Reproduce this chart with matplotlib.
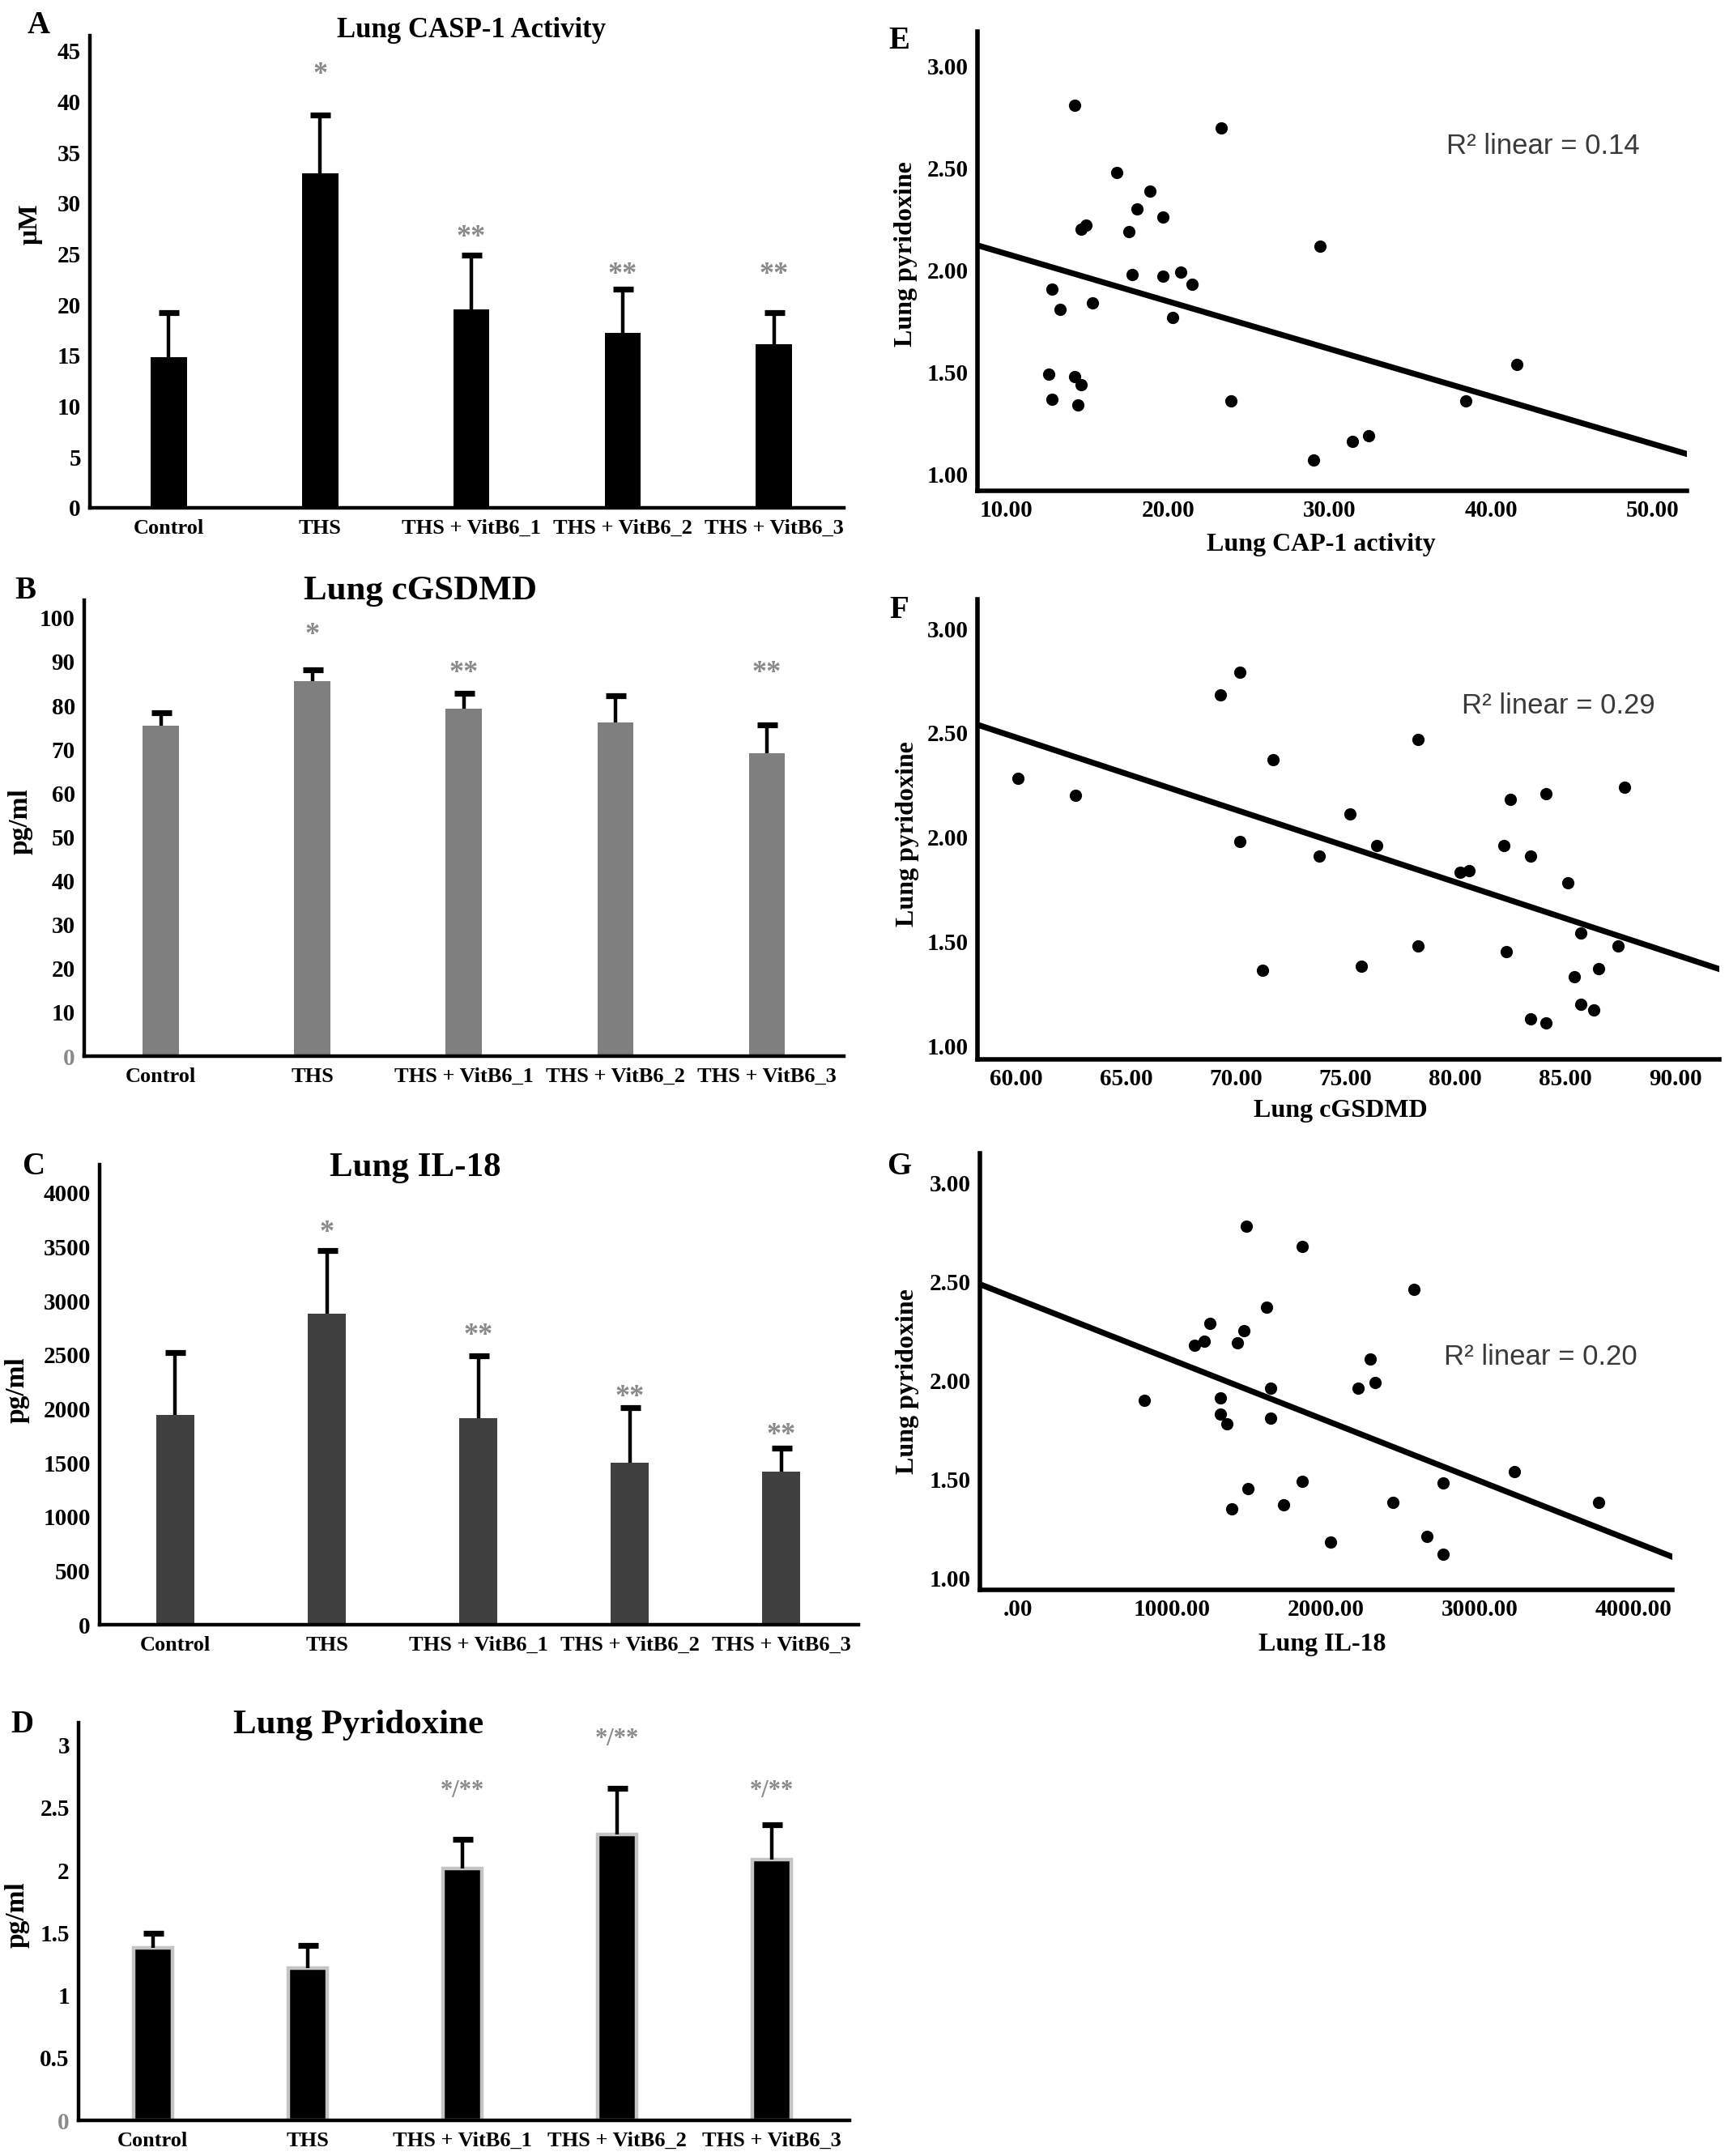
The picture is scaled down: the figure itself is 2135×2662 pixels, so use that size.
import numpy as np
import matplotlib
matplotlib.use('Agg')
import matplotlib.pyplot as plt

plt.rcParams['font.family'] = ['Liberation Serif', 'DejaVu Serif']
plt.rcParams['font.weight'] = 'bold'

# ---------------- data ----------------
groups = ['Control', 'THS', 'THS + VitB6_1', 'THS + VitB6_2', 'THS + VitB6_3']

casp1_mean = [14.8, 32.9, 19.5, 17.2, 16.1]
casp1_sd = [4.4, 5.8, 5.4, 4.3, 3.1]
casp1_sig = ['', '*', '**', '**', '**']

gsdmd_mean = [75.4, 85.5, 79.3, 76.2, 69.1]
gsdmd_sd = [3.0, 2.6, 3.4, 6.1, 6.5]
gsdmd_sig = ['', '*', '**', '', '**']

il18_mean = [1946, 2878, 1914, 1501, 1421]
il18_sd = [572, 588, 573, 512, 217]
il18_sig = ['', '*', '**', '**', '**']

pyr_mean = [1.378, 1.215, 2.017, 2.285, 2.085]
pyr_sd = [0.115, 0.187, 0.232, 0.369, 0.281]
pyr_sig = ['', '', '*/**', '*/**', '*/**']

# scatter E: CASP-1 activity vs pyridoxine
casp_x = [14.2, 23.3, 16.8, 18.9, 18.1, 19.7, 14.9, 14.6, 17.6, 29.4, 17.8, 19.7, 20.8, 21.5, 12.8,
          13.3, 15.3, 20.3, 12.6, 14.2, 14.6, 12.8, 14.4, 23.9, 41.6, 38.4, 31.4, 32.4, 29.0]
casp_y = [2.81, 2.70, 2.48, 2.39, 2.30, 2.26, 2.22, 2.20, 2.19, 2.12, 1.98, 1.97, 1.99, 1.93, 1.91,
          1.81, 1.84, 1.77, 1.49, 1.48, 1.44, 1.37, 1.34, 1.36, 1.54, 1.36, 1.16, 1.19, 1.07]
casp_fit = (2.314, -0.0233)

# scatter F: cGSDMD vs pyridoxine
gsd_x = [70.2, 69.3, 78.3, 71.7, 60.1, 62.7, 87.7, 84.1, 82.5, 75.2, 70.2, 76.4, 73.8, 82.2, 83.4,
         80.2, 80.6, 85.1, 85.7, 87.4, 78.3, 82.3, 71.2, 75.7, 85.4, 86.5, 85.7, 86.3, 83.4, 84.1]
gsd_y = [2.79, 2.68, 2.47, 2.37, 2.28, 2.20, 2.24, 2.21, 2.18, 2.11, 1.98, 1.96, 1.91, 1.96, 1.91,
         1.83, 1.84, 1.78, 1.54, 1.48, 1.48, 1.45, 1.36, 1.38, 1.33, 1.37, 1.20, 1.17, 1.13, 1.11]
gsd_fit = (4.560, -0.0347)

# scatter G: IL-18 vs pyridoxine
il_x = [1488, 1846, 2575, 1618, 1249, 1470, 1211, 1147, 1428, 2288, 2214, 2323, 1646, 821, 1319,
        1319, 1358, 1646, 3228, 2765, 1846, 1498, 1389, 1730, 2439, 3772, 2035, 2660, 2765]
il_y = [2.78, 2.68, 2.46, 2.37, 2.29, 2.25, 2.20, 2.18, 2.19, 2.11, 1.96, 1.99, 1.96, 1.90, 1.91,
        1.83, 1.78, 1.81, 1.54, 1.48, 1.49, 1.45, 1.35, 1.37, 1.38, 1.38, 1.18, 1.21, 1.12]
il_fit = (2.412, -0.000307)

fig = plt.figure(figsize=(10.675, 13.31), dpi=200)
serif = ['Liberation Serif', 'DejaVu Serif']
sans = ['Liberation Sans', 'DejaVu Sans']


def bar_panel(rect, mean, sd, sig, sig_y, title, title_pos, title_size, ylabel, ylabel_pos,
              ylim, yticks, color, edge=None, xlim=(-0.5, 4.5), width=0.24, gray_zero=False):
    ax = fig.add_axes(rect)
    x = np.arange(len(groups))
    if edge:
        ax.bar(x, mean, width, color=color, edgecolor=edge, linewidth=1.6, zorder=2)
    else:
        ax.bar(x, mean, width, color=color, zorder=2)
    # only the upper half of the error bar, as in Excel
    _, caps, _ = ax.errorbar(x, mean, yerr=[np.zeros(len(sd)), sd], fmt='none', ecolor='black',
                             elinewidth=1.6, capsize=4.5, capthick=2.6, zorder=3)
    caps[0].set_visible(False)
    for xi, s, yy in zip(x, sig, sig_y):
        if s:
            ax.text(xi, yy, s, ha='center', va='center', color='#8a8a8a',
                    fontsize=13 if '/' not in s else 11, family=serif, fontweight='bold')
    ax.set_xlim(*xlim)
    ax.set_ylim(*ylim)
    ax.set_yticks(yticks)
    ax.set_yticklabels([f'{t:g}' for t in yticks], fontsize=10.5, family=serif, fontweight='bold')
    ax.set_xticks(x)
    ax.set_xticklabels(groups, fontsize=9.5, family=serif, fontweight='bold')
    if gray_zero:
        ax.get_yticklabels()[0].set_color('#8a8a8a')
    ax.tick_params(length=0, pad=4)
    ax.tick_params(axis='x', pad=5)
    for s in ['top', 'right']:
        ax.spines[s].set_visible(False)
    for s in ['left', 'bottom']:
        ax.spines[s].set_linewidth(1.6)
    ax.set_ylabel(ylabel, fontsize=12, family=serif, fontweight='bold')
    ax.yaxis.set_label_coords(*ylabel_pos)
    fig.text(title_pos[0], title_pos[1], title, ha='center', va='center',
             fontsize=title_size, family=serif, fontweight='bold')
    return ax


bar_panel([0.052, 0.7645, 0.436, 0.219], casp1_mean, casp1_sd, casp1_sig,
          [42.6, 42.6, 26.6, 22.9, 22.9], 'Lung CASP-1 Activity', (0.2725, 0.986), 12.5,
          'μM', (-0.063, 0.60), (0, 46.5), list(range(0, 46, 5)), 'black',
          xlim=(-0.52, 4.46), width=0.24)

bar_panel([0.0487, 0.5101, 0.4393, 0.2115], gsdmd_mean, gsdmd_sd, gsdmd_sig,
          [96, 96, 87.3, 0, 87.3], 'Lung cGSDMD', (0.243, 0.7258), 15.5,
          'pg/ml', (-0.068, 0.515), (0, 104), list(range(0, 101, 10)), '#7f7f7f',
          xlim=(-0.507, 4.507), width=0.24, gray_zero=True)

bar_panel([0.0576, 0.2464, 0.4389, 0.2134], il18_mean, il18_sd, il18_sig,
          [3625, 3625, 2671, 2105, 1749], 'Lung IL-18', (0.240, 0.4583), 15.5,
          'pg/ml', (-0.092, 0.51), (0, 4260), list(range(0, 4001, 500)), '#404040',
          xlim=(-0.5, 4.51), width=0.25)

bar_panel([0.0454, 0.0165, 0.4459, 0.1845], pyr_mean, pyr_sd, pyr_sig,
          [0, 0, 2.63, 3.05, 2.63], 'Lung Pyridoxine', (0.2075, 0.200), 15.5,
          'pg/ml', (-0.063, 0.517), (0, 3.18), [0, 0.5, 1, 1.5, 2, 2.5, 3], 'black',
          edge='#c4c4c4', xlim=(-0.48, 4.5), width=0.25, gray_zero=True)


def scatter_panel(rect, xs, ys, fit, xlim, ylim, xticks, xticklabels, xlabel, xlabel_pos,
                  ylabel_pos, r2_text, r2_pos):
    ax = fig.add_axes(rect)
    ax.scatter(xs, ys, s=30, color='black', zorder=3, linewidths=0)
    lx = np.array(xlim)
    ax.plot(lx, fit[0] + fit[1] * lx, color='black', lw=2.6, zorder=2)
    ax.set_xlim(*xlim)
    ax.set_ylim(*ylim)
    yt = [1.0, 1.5, 2.0, 2.5, 3.0]
    ax.set_yticks(yt)
    ax.set_yticklabels([f'{v:.2f}' for v in yt], fontsize=10.5, family=serif, fontweight='bold')
    ax.set_xticks(xticks)
    ax.set_xticklabels(xticklabels, fontsize=10.5, family=serif, fontweight='bold')
    ax.tick_params(length=0, pad=4)
    for s in ['top', 'right']:
        ax.spines[s].set_visible(False)
    for s in ['left', 'bottom']:
        ax.spines[s].set_linewidth(2.0)
    ax.set_xlabel(xlabel, fontsize=11.5, family=serif, fontweight='bold')
    ax.xaxis.set_label_coords(*xlabel_pos)
    ax.set_ylabel('Lung pyridoxine', fontsize=11.5, family=serif, fontweight='bold')
    ax.yaxis.set_label_coords(*ylabel_pos)
    ax.text(r2_pos[0], r2_pos[1], r2_text, ha='left', va='center', fontsize=12.5,
            family=sans, fontweight='normal', color='#3a3a3a')
    return ax


scatter_panel([0.5653, 0.7724, 0.4103, 0.2129], casp_x, casp_y, casp_fit,
              (8.2, 52.1), (0.92, 3.17), [10, 20, 30, 40, 50],
              ['10.00', '20.00', '30.00', '40.00', '50.00'], 'Lung CAP-1 activity',
              (0.484, -0.092), (-0.084, 0.515), 'R² linear = 0.14', (37.2, 2.61))

scatter_panel([0.5653, 0.5086, 0.4290, 0.2134], gsd_x, gsd_y, gsd_fit,
              (58.24, 92.0), (0.934, 3.14), [60, 65, 70, 75, 80, 85, 90],
              ['60.00', '65.00', '70.00', '75.00', '80.00', '85.00', '90.00'], 'Lung cGSDMD',
              (0.49, -0.086), (-0.078, 0.49), 'R² linear = 0.29', (80.3, 2.63))

scatter_panel([0.5667, 0.2626, 0.4005, 0.2024], il_x, il_y, il_fit,
              (-246, 4253), (0.939, 3.15), [0, 1000, 2000, 3000, 4000],
              ['.00', '1000.00', '2000.00', '3000.00', '4000.00'], 'Lung IL-18',
              (0.495, -0.098), (-0.088, 0.477), 'R² linear = 0.20', (2772, 2.12))

# panel letters
for lbl, (px, py) in zip('ABCDEFG', [(0.0225, 0.988), (0.0146, 0.726), (0.0195, 0.459),
                                     (0.013, 0.200), (0.520, 0.981), (0.520, 0.717),
                                     (0.520, 0.4587)]):
    fig.text(px, py, lbl, ha='center', va='center', fontsize=14, family=serif, fontweight='bold')

fig.savefig('out.png', dpi=200, facecolor='white')
